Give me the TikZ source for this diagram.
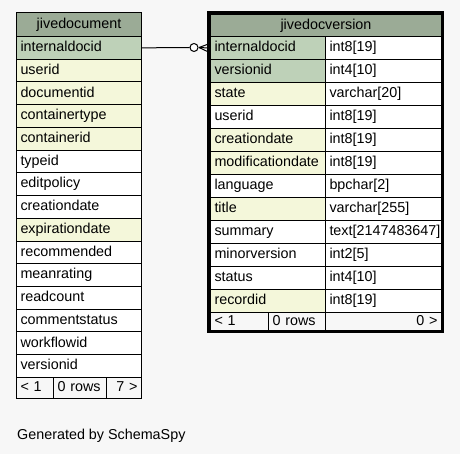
\documentclass[tikz,border=0pt]{standalone}
\usepackage{fontspec}
\setmainfont{Liberation Sans}
\usetikzlibrary{calc}
\definecolor{bgc}{HTML}{F7F7F7}
\definecolor{headc}{HTML}{9BAB96}
\definecolor{pkc}{HTML}{BED1B8}
\definecolor{ixc}{HTML}{F4F7DA}
\begin{document}
\begin{tikzpicture}[x=1bp,y=-1bp,
  font=\fontsize{14.4}{16}\selectfont,
  cell/.style={draw=black, line width=1bp, anchor=north west, inner xsep=4bp, inner ysep=0pt,
               text height=10.5bp, text depth=3bp},
  pkrow/.style={fill=pkc},
  ixrow/.style={fill=ixc},
  plainrow/.style={fill=white},
  footrow/.style={fill=bgc},
  headrow/.style={cell, fill=headc, align=center},
  lrow/.style={cell, text width=117bp, minimum height=22.73bp},
  rname/.style={cell, text width=107.5bp, minimum height=23bp},
  rtype/.style={cell, text width=108bp, minimum height=23bp, fill=white},
]
\fill[bgc] (0,0) rectangle (460,454);
\useasboundingbox (0,0) rectangle (460,454);

% ---------- left table: jivedocument ----------
\node[headrow, text width=117bp, minimum height=24bp] (Lh) at (16,12) {jivedocument};
\foreach \t/\s [count=\i] in {internaldocid/pkrow, userid/ixrow, documentid/ixrow,
  containertype/ixrow, containerid/ixrow, typeid/plainrow, editpolicy/plainrow,
  creationdate/plainrow, expirationdate/ixrow, recommended/plainrow, meanrating/plainrow,
  readcount/plainrow, commentstatus/plainrow, workflowid/plainrow, versionid/plainrow}
  \node[lrow, \s] (L\i) at (16,{36+22.73*(\i-1)}) {\t};
\node[cell, footrow, text width=29bp, minimum height=21bp] (Lf1) at (16,377) {< 1};
\node[cell, footrow, text width=45bp, minimum height=21bp] (Lf2) at (53,377) {0 rows};
\node[cell, footrow, text width=27bp, minimum height=21bp, align=right] (Lf3) at (106,377) {7 >};

% ---------- right table: jivedocversion ----------
\node[headrow, text width=223bp, minimum height=22bp] (Rh) at (210,14) {jivedocversion};
\foreach \t/\ty/\s [count=\i] in {internaldocid/int8[19]/pkrow, versionid/int4[10]/pkrow,
  state/varchar[20]/ixrow, userid/int8[19]/plainrow, creationdate/int8[19]/ixrow,
  modificationdate/int8[19]/ixrow, language/bpchar[2]/plainrow, title/varchar[255]/ixrow,
  summary/text[2147483647]/plainrow, minorversion/int2[5]/plainrow, status/int4[10]/plainrow,
  recordid/int8[19]/ixrow}
  {
  \node[rname, \s] (R\i) at (210,{36+23*(\i-1)}) {\t};
  \node[rtype] (T\i) at (325,{36+23*(\i-1)}) {\ty};
  }
\node[cell, footrow, text width=50bp, minimum height=18bp] (Rf1) at (210,312) {< 1};
\node[cell, footrow, text width=49bp, minimum height=18bp] (Rf2) at (268,312) {0 rows};
\node[cell, footrow, text width=108bp, minimum height=18bp, align=right] (Rf3) at (325,312) {0 >};
\draw[line width=3bp] (208.5,12.5) rectangle (442.5,331.5);

% ---------- relationship ----------
\node[circle, draw=black, fill=white, line width=1bp, minimum size=8bp, inner sep=0pt] (circ) at (194,47.5) {};
\draw[line width=1bp] (L1.east) -- (circ.west);
\coordinate (cf) at (199,47.5);
\draw[line width=1bp] (cf) -- ($(R1.west)+(-1.5,-4)$);
\draw[line width=1bp] (cf) -- ($(R1.west)+(-1.5,0)$);
\draw[line width=1bp] (cf) -- ($(R1.west)+(-1.5,4)$);

% ---------- footer text ----------
\node[anchor=west, inner sep=0pt] (gen) at (17,436) {Generated by SchemaSpy};
\end{tikzpicture}
\end{document}
